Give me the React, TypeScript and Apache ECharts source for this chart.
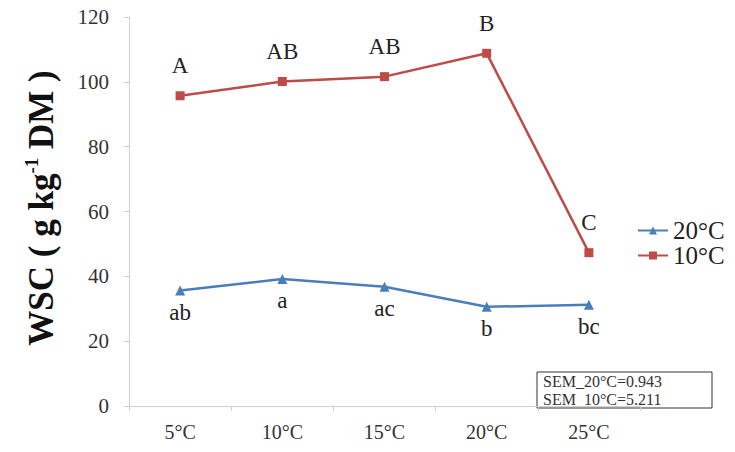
import React, { useEffect, useRef } from "react";
import * as echarts from "echarts";

const categories = ["5°C", "10°C", "15°C", "20°C", "25°C"];
const series20 = [35.6, 39.2, 36.8, 30.6, 31.2];
const series10 = [95.7, 100.1, 101.6, 108.8, 47.3];
const letters20 = ["ab", "a", "ac", "b", "bc"];
const letters10 = ["A", "AB", "AB", "B", "C"];
const semLines = ["SEM_20°C=0.943", "SEM_10°C=5.211"];

const FONT = "Liberation Serif";

const legendBase = {
  orient: "vertical",
  left: 632,
  itemWidth: 30,
  itemHeight: 10,
  textStyle: { fontFamily: FONT, fontSize: 25, color: "#222" },
};

export default function App() {
  const ref = useRef<HTMLDivElement>(null);
  useEffect(() => {
    if (!ref.current) return;
    const chart = echarts.init(ref.current, null, { renderer: "svg" });
    chart.setOption({
      animation: false,
      backgroundColor: "#ffffff",
      textStyle: { fontFamily: FONT },
      grid: { left: 129, right: 95, top: 17, bottom: 46 },
      legend: [
        { ...legendBase, top: 213, data: ["20°C"] },
        { ...legendBase, top: 238, data: ["10°C"] },
      ],
      xAxis: {
        type: "category",
        data: categories,
        boundaryGap: true,
        axisLine: { lineStyle: { color: "#d0d0d0", width: 1 } },
        axisTick: { show: true, length: 5, lineStyle: { color: "#d0d0d0" } },
        axisLabel: { fontFamily: FONT, fontSize: 20, color: "#333", margin: 16 },
        splitLine: { show: false },
      },
      yAxis: {
        type: "value",
        min: 0,
        max: 120,
        interval: 20,
        axisLine: { show: true, lineStyle: { color: "#d0d0d0", width: 1 } },
        axisTick: { show: true, length: 5, lineStyle: { color: "#d0d0d0" } },
        axisLabel: { fontFamily: FONT, fontSize: 21, color: "#333", margin: 20 },
        splitLine: { show: false },
      },
      series: [
        {
          name: "20°C",
          type: "line",
          data: series20,
          symbol: "triangle",
          symbolSize: 10,
          color: "#4A7EBB",
          lineStyle: { width: 2.5, color: "#4A7EBB" },
          itemStyle: { color: "#4A7EBB" },
          label: {
            show: true,
            position: "bottom",
            distance: 5,
            fontFamily: FONT,
            fontSize: 23,
            color: "#222",
            formatter: (p: any) => letters20[p.dataIndex],
          },
        },
        {
          name: "10°C",
          type: "line",
          data: series10,
          symbol: "rect",
          symbolSize: 9,
          color: "#BE4B48",
          lineStyle: { width: 2.5, color: "#BE4B48" },
          itemStyle: { color: "#BE4B48" },
          label: {
            show: true,
            position: "top",
            distance: 14,
            fontFamily: FONT,
            fontSize: 23,
            color: "#222",
            formatter: (p: any) => letters10[p.dataIndex],
          },
        },
      ],
      graphic: [
        {
          type: "text",
          x: 41,
          y: 208,
          rotation: Math.PI / 2,
          style: {
            text: "{a|WSC ( g kg}{s|-1}{a| DM )}",
            align: "center",
            verticalAlign: "middle",
            rich: {
              a: { fontFamily: FONT, fontSize: 35, fontWeight: "bold", fill: "#111", lineHeight: 38 },
              s: { fontFamily: FONT, fontSize: 19, fontWeight: "bold", fill: "#111", verticalAlign: "top", lineHeight: 38, padding: [0, 0, 15, 0] },
            },
          },
        },
        {
          type: "rect",
          shape: { x: 537, y: 372, width: 175, height: 36 },
          style: { fill: "#fff", stroke: "#333", lineWidth: 1 },
        },
        {
          type: "text",
          x: 543,
          y: 381,
          style: { text: semLines[0], fontFamily: FONT, fontSize: 16, fill: "#333", verticalAlign: "middle" },
        },
        {
          type: "text",
          x: 543,
          y: 399,
          style: { text: semLines[1], fontFamily: FONT, fontSize: 16, fill: "#333", verticalAlign: "middle" },
        },
      ],
    });
    return () => chart.dispose();
  }, []);
  return (
    <div
      ref={ref}
      style={{ position: "fixed", left: 0, top: 0, width: 735, height: 452 }}
    />
  );
}
